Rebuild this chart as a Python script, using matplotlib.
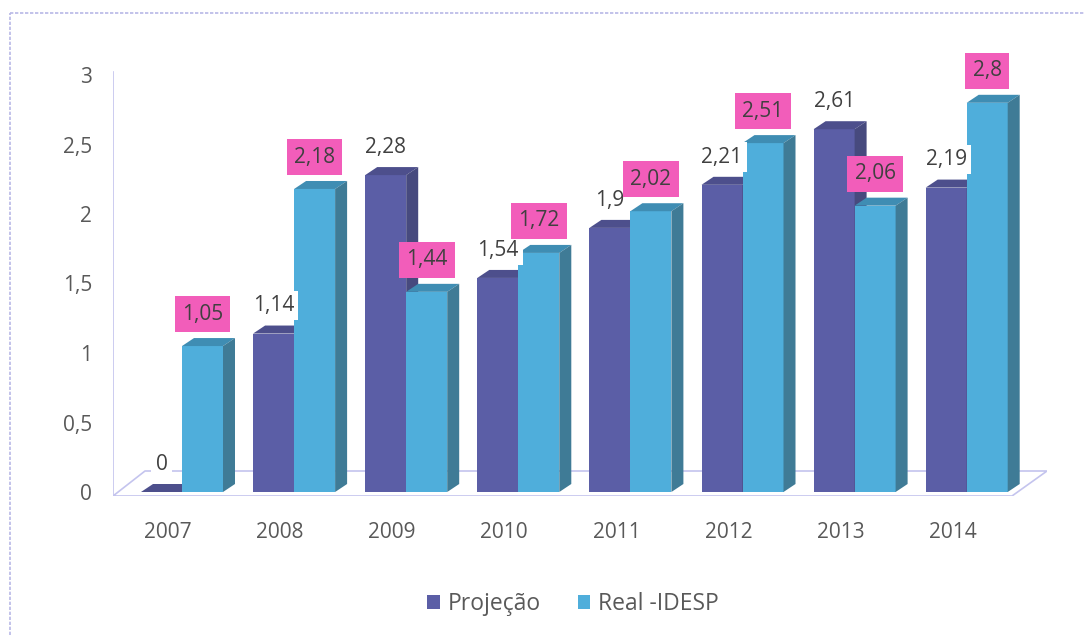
import numpy as np
import matplotlib.pyplot as plt
from matplotlib.patches import Polygon, Patch
from matplotlib.lines import Line2D

plt.rcParams.update({
    "font.family": ["Open Sans", "DejaVu Sans"],
    "font.size": 15,
})

# === Dados ===
anos = ["2007", "2008", "2009", "2010", "2011", "2012", "2013", "2014"]
projecao = [0, 1.14, 2.28, 1.54, 1.9, 2.21, 2.61, 2.19]
real_idesp = [1.05, 2.18, 1.44, 1.72, 2.02, 2.51, 2.06, 2.8]
yticks = [0, 0.5, 1, 1.5, 2, 2.5, 3]

# cores (frente, topo, lado)
cor_proj = ("#5B5EA6", "#4D4F8C", "#474A7E")
cor_real = ("#4FAEDB", "#3F8DB3", "#3F7B96")
cor_texto = "#595959"
cor_linha = "#C4C4EE"

def fmt(v):
    return f"{v:g}".replace(".", ",")

# === Figura ===
W, H = 1085, 635
fig = plt.figure(figsize=(W / 100, H / 100), dpi=100)

# eixos posicionados em pixels
px_l, px_r, px_b, px_t = 113, 1047, 496, 60
ax = fig.add_axes([px_l / W, 1 - px_b / H, (px_r - px_l) / W, (px_b - px_t) / H])

cat_px = 112.1      # distância entre categorias (px)
x0_px = 182         # centro do par 2007 (px)
y_px = 139          # px por unidade
y0_px = 492
ax.set_xlim((px_l - x0_px) / cat_px, (px_r - x0_px) / cat_px)
ax.set_ylim((y0_px - px_b) / y_px, (y0_px - px_t) / y_px)

w = 41 / cat_px     # largura da barra
dx = 12 / cat_px    # profundidade 3D
dy = 8 / y_px

def barra3d(x, h, cores):
    ax.bar(x, h, width=w, align="edge", color=cores[0], linewidth=0, zorder=2)
    x1 = x + w
    ax.add_patch(Polygon([(x, h), (x + dx, h + dy), (x1 + dx, h + dy), (x1, h)],
                         closed=True, fc=cores[1], ec="none", zorder=2))
    ax.add_patch(Polygon([(x1, 0), (x1 + dx, dy), (x1 + dx, h + dy), (x1, h)],
                         closed=True, fc=cores[2], ec="none", zorder=2))

# piso e parede (decoração)
tr = ax.transAxes
fl = (496 - 471) / (px_b - px_t)
ax.add_line(Line2D([0, 0], [0, (px_b - 72) / (px_b - px_t)], transform=tr, color=cor_linha, lw=1.2, zorder=0))
ax.add_line(Line2D([0, (1012 - px_l) / (px_r - px_l), 1, (145 - px_l) / (px_r - px_l), 0],
                   [0, 0, fl, fl, 0], transform=tr, color=cor_linha, lw=1.2, zorder=0))

for i in range(len(anos)):
    barra3d(i - w, projecao[i], cor_proj)
    barra3d(i, real_idesp[i], cor_real)

for i in range(len(anos)):
    ax.annotate(fmt(projecao[i]), xy=(i - w / 2, projecao[i]), xytext=(0, 20),
                textcoords="offset points", ha="center", va="center", color="#404040",
                bbox=dict(boxstyle="square,pad=0.2", fc="white", ec="none"), zorder=4)
for i in range(len(anos)):
    ax.annotate(fmt(real_idesp[i]), xy=(i + w / 2, real_idesp[i]), xytext=(0, 23),
                textcoords="offset points", ha="center", va="center", color="#404040",
                bbox=dict(boxstyle="square,pad=0.35", fc="#F25DBA", ec="none"), zorder=5)

ax.set_yticks(yticks)
ax.set_yticklabels([fmt(v) for v in yticks], color=cor_texto)
ax.set_xticks(np.arange(len(anos)) - 14 / cat_px)
ax.set_xticklabels(anos, color=cor_texto)
ax.tick_params(axis="y", length=0, pad=15)
ax.tick_params(axis="x", length=0, pad=19)
for s in ax.spines.values():
    s.set_visible(False)
ax.patch.set_visible(False)

# legenda
handles = [Patch(fc=cor_proj[0], ec="none", label="Projeção"),
           Patch(fc=cor_real[0], ec="none", label="Real -IDESP")]
leg = fig.legend(handles=handles, loc="center", bbox_to_anchor=(573 / W, 1 - 604 / H),
                 ncol=2, frameon=False, handlelength=0.55, handleheight=0.55,
                 handletextpad=0.35, columnspacing=1.6, fontsize=16.5)
for t in leg.get_texts():
    t.set_color(cor_texto)

# moldura tracejada
fig.add_artist(Line2D([10 / W, 1], [1 - 13 / H, 1 - 13 / H], transform=fig.transFigure,
                      color="#B8B8E6", lw=1.2, ls=(0, (2, 1))))
fig.add_artist(Line2D([10 / W, 10 / W], [0, 1 - 13 / H], transform=fig.transFigure,
                      color="#B8B8E6", lw=1.2, ls=(0, (2, 1))))

fig.savefig("out.png", dpi=100)
